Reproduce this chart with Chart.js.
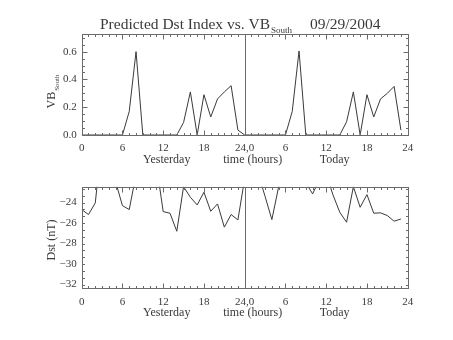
<!DOCTYPE html>
<html>
<head>
<meta charset="utf-8">
<script src="https://cdn.jsdelivr.net/npm/chart.js@4.4.0/dist/chart.umd.min.js"></script>
<style>
  html, body { margin: 0; padding: 0; background: #fff; }
  #wrap { position: relative; width: 453px; height: 340px; }
  .box { position: absolute; left: 0; width: 453px; height: 170px; }
</style>
</head>
<body>
<div id="wrap">
  <div class="box" style="top:0"><canvas id="vbChart" width="453" height="170"></canvas></div>
  <div class="box" style="top:170px"><canvas id="dstChart" width="453" height="170"></canvas></div>
</div>
<script>
// Hourly values, yesterday and today
const hours = [0, 1, 2, 3, 4, 5, 6, 7, 8, 9, 10, 11, 12, 13, 14, 15, 16, 17, 18, 19, 20, 21, 22, 23];
const vbYesterday = [0, 0, 0, 0, 0, 0, 0, 0.17, 0.60, 0, 0, 0, 0, 0, 0, 0.09, 0.31, 0, 0.29, 0.13, 0.26, 0.31, 0.355, 0.035];
const vbToday = [0, 0, 0, 0, 0, 0, 0, 0.17, 0.605, 0, 0, 0, 0, 0, 0, 0.095, 0.31, 0, 0.29, 0.13, 0.26, 0.30, 0.35, 0.035];
const dstYesterday = [-24.68, -25.17, -24.03, -17.7, -18.5, -21.99, -24.3, -24.68, -21.25, -20, -20, -20.3, -24.88, -25.04, -26.8, -22.45, -23.48, -24.23, -22.99, -24.85, -24.13, -26.4, -25.17, -25.69];
const dstToday = [-21.64, -21.5, -21.19, -23.4, -25.66, -22.45, -21, -21, -21.5, -22.06, -23.15, -21.75, -21.25, -23.25, -24.95, -25.92, -22.45, -24.46, -23.22, -25.04, -25.0, -25.27, -25.82, -25.6];

// Axis ticks
const xTicks = [0, 6, 12, 18, 24, 30, 36, 42, 48];
const vbTicks = [0, 0.2, 0.4, 0.6];
const dstTicks = [-32, -30, -28, -26, -24];

const FONT = "'Liberation Serif', 'DejaVu Serif', serif";
const INK = '#3a3a3a';

function toPoints(yest, today) {
    return hours.map((h, i) => ({ x: h, y: yest[i] }))
        .concat(hours.map((h, i) => ({ x: h + 24, y: today[i] })));
}

function hourLabel(v) {
    if (v === 24) return '24,0';
    return String(v > 24 ? v - 24 : v);
}

// IDL style frame: box, inward ticks, midnight line, labels
const idlFrame = {
    id: 'idlFrame',
    afterDraw(chart, args, opts) {
        const { ctx, chartArea: a, scales: { x, y } } = chart;
        ctx.save();
        ctx.strokeStyle = '#6a6a6a';
        ctx.lineWidth = 1;
        const L = Math.round(a.left) + 0.5, R = Math.round(a.right) + 0.5;
        const T = Math.round(a.top) + 0.5, B = Math.round(a.bottom) + 0.5;
        ctx.strokeRect(L, T, R - L, B - T);

        ctx.beginPath();
        const mx = Math.round(x.getPixelForValue(24)) + 0.5;
        ctx.moveTo(mx, T); ctx.lineTo(mx, B);

        for (let h = 0; h <= 48; h++) {
            const px = Math.round(x.getPixelForValue(h)) + 0.5;
            const len = h % 6 === 0 ? 5 : 2.5;
            ctx.moveTo(px, B); ctx.lineTo(px, B - len);
            ctx.moveTo(px, T); ctx.lineTo(px, T + len);
        }
        for (let v = opts.yFrom; v <= y.max + 1e-9; v += opts.yMinor) {
            if (v < y.min - 1e-9) continue;
            const py = Math.round(y.getPixelForValue(v)) + 0.5;
            const major = opts.yMajor.some(t => Math.abs(t - v) < 1e-6);
            const len = major ? 5 : 2.5;
            ctx.moveTo(L, py); ctx.lineTo(L + len, py);
            ctx.moveTo(R, py); ctx.lineTo(R - len, py);
        }
        ctx.stroke();

        ctx.fillStyle = INK;
        ctx.textBaseline = 'alphabetic';
        ctx.font = '12px ' + FONT;
        ctx.textAlign = 'center';
        const ly = B + opts.labelGap;
        ctx.fillText('Yesterday', a.left + 85, ly);
        ctx.fillText('time (hours)', a.left + 171, ly);
        ctx.fillText('Today', a.left + 253, ly);

        // y title, rotated, with optional subscript
        ctx.save();
        ctx.translate(opts.yTitleX, opts.yTitleY);
        ctx.rotate(-Math.PI / 2);
        ctx.textAlign = 'left';
        ctx.font = '12px ' + FONT;
        const w1 = ctx.measureText(opts.yTitle[0]).width;
        ctx.font = '7px ' + FONT;
        const w2 = opts.yTitle[1] ? ctx.measureText(opts.yTitle[1]).width : 0;
        const sx = -(w1 + w2) / 2;
        ctx.font = '12px ' + FONT;
        ctx.fillText(opts.yTitle[0], sx, 0);
        if (opts.yTitle[1]) {
            ctx.font = '7px ' + FONT;
            ctx.fillText(opts.yTitle[1], sx + w1 + 1, 4);
        }
        ctx.restore();

        if (opts.title) {
            ctx.textAlign = 'left';
            ctx.font = '15.5px ' + FONT;
            const main = 'Predicted Dst Index vs. VB';
            ctx.fillText(main, 100, 29);
            const endX = 100 + ctx.measureText(main).width;
            ctx.font = '9px ' + FONT;
            ctx.fillText('South', endX + 1, 33);
            ctx.font = '15.5px ' + FONT;
            ctx.fillText('09/29/2004', 310, 29);
        }
        ctx.restore();
    }
};

function makeChart(id, data, cfg) {
    return new Chart(document.getElementById(id), {
        type: 'line',
        data: {
            datasets: [{
                data: data,
                borderColor: '#3a3a3a',
                borderWidth: 1,
                pointRadius: 0,
                tension: 0,
                fill: false
            }]
        },
        options: {
            responsive: false,
            animation: false,
            layout: { padding: { top: cfg.top, right: 45.3, left: 0, bottom: 0 } },
            plugins: {
                legend: { display: false },
                tooltip: { enabled: false },
                idlFrame: cfg.frame
            },
            scales: {
                x: {
                    type: 'linear',
                    min: 0,
                    max: 48,
                    afterBuildTicks: s => { s.ticks = xTicks.map(v => ({ value: v })); },
                    afterFit: s => { s.height = cfg.xHeight; },
                    grid: { display: false, drawTicks: false },
                    border: { display: false },
                    ticks: {
                        padding: 7,
                        color: INK,
                        font: { family: FONT, size: 11 },
                        maxRotation: 0,
                        autoSkip: false,
                        callback: v => hourLabel(v)
                    }
                },
                y: {
                    min: cfg.yMin,
                    max: cfg.yMax,
                    afterBuildTicks: s => { s.ticks = cfg.yTicks.map(v => ({ value: v })); },
                    afterFit: s => { s.width = 81.7; },
                    grid: { display: false, drawTicks: false },
                    border: { display: false },
                    ticks: {
                        padding: 5,
                        color: INK,
                        font: { family: FONT, size: 11 },
                        callback: cfg.yLabel
                    }
                }
            }
        },
        plugins: [idlFrame]
    });
}

makeChart('vbChart', toPoints(vbYesterday, vbToday), {
    top: 34, xHeight: 35, yMin: 0, yMax: 0.727, yTicks: vbTicks,
    yLabel: v => v.toFixed(1),
    frame: { yFrom: 0, yMinor: 0.05, yMajor: vbTicks, labelGap: 27,
             yTitle: ['VB', 'South'], yTitleX: 55, yTitleY: 92, title: true }
});

makeChart('dstChart', toPoints(dstYesterday, dstToday), {
    top: 16.7, xHeight: 51.7, yMin: -32.37, yMax: -22.45, yTicks: dstTicks,
    yLabel: v => '\u2212' + Math.abs(v),
    frame: { yFrom: -32.6667, yMinor: 2 / 3, yMajor: dstTicks, labelGap: 27,
             yTitle: ['Dst (nT)', ''], yTitleX: 55, yTitleY: 70, title: false }
});
</script>
</body>
</html>
